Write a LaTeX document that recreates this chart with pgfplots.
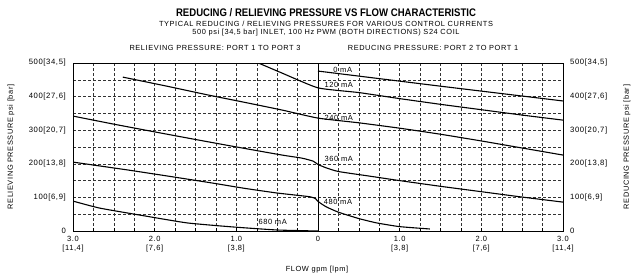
\documentclass[border=0pt]{standalone}
\usepackage{fontspec}
\setmainfont{Liberation Sans}
\newfontfamily\dfont[LetterSpace=8]{Liberation Sans}
\newfontfamily\tfont[FakeStretch=0.87]{Liberation Sans}
\usepackage{pgfplots}
\pgfplotsset{compat=1.18}
\begin{document}
\begin{tikzpicture}[x=1pt,y=1pt]
\useasboundingbox (0,0) rectangle (634,277);
\begin{axis}[
  at={(73pt,46pt)}, anchor=south west,
  width=490pt, height=168pt, scale only axis,
  xmin=-3, xmax=3, ymin=0, ymax=500,
  xtick={-3,-2,-1,0,1,2,3},
  xticklabels={{3.0\\{[11,4]}},{2.0\\{[7,6]}},{1.0\\{[3,8]}},{0},{1.0\\{[3,8]}},{2.0\\{[7,6]}},{3.0\\{[11,4]}}},
  minor x tick num=3,
  ytick={0,100,...,500},
  yticklabels={0,{100[6,9]},{200[13,8]},{300[20,7]},{400[27,6]},{500[34,5]}},
  minor y tick num=1,
  grid=both,
  grid style={black!80, line width=0.4pt, dash pattern=on 3pt off 2pt},
  tick align=inside,
  xtick pos=left, ytick pos=left,
  ytick style={draw=none},
  xtick style={black, line width=0.5pt},
  major tick length=3pt, minor tick length=3pt,
  axis line style={line width=1pt},
  xticklabel style={font=\dfont\fontsize{7.5}{9}\selectfont, align=center, inner sep=0pt, yshift=-5pt},
  yticklabel style={font=\dfont\fontsize{7.7}{9}\selectfont, inner sep=0pt, xshift=-7pt},
]
% centre line
\addplot[black, line width=1pt] coordinates {(0,0) (0,500)};
% 0 mA
\addplot[black, line width=1.1pt] coordinates {(0,476) (1.5,431) (3,387)};
% 120 mA
\addplot[black, line width=1.1pt, smooth, tension=0.3] coordinates {(-0.73,500) (-0.44,470) (0,426) (0.5,412) (1,394) (1.5,377) (2,361) (2.5,345) (3,330)};
% 240 mA
\addplot[black, line width=1.1pt, smooth, tension=0.3] coordinates {(-2.39,458) (-1.85,431) (-1.35,405) (-0.9,383) (-0.44,360) (0,336) (0.5,322) (1,306) (1.5,288) (2,268) (2.5,247) (3,226)};
% 360 mA
\addplot[black, line width=1.1pt, smooth, tension=0.3] coordinates {(-3,342) (-2.5,318) (-2,295) (-1.47,271) (-0.95,248) (-0.44,226) (-0.2,217) (-0.06,208) (0,198) (0.1,188) (0.25,177) (0.64,163) (1,150) (1.5,133) (2,117) (2.5,101) (3,86)};
% 480 mA
\addplot[black, line width=1.1pt, smooth, tension=0.3] coordinates {(-3,205) (-2.34,182) (-1.8,162) (-1.3,143) (-0.9,127) (-0.5,113) (-0.1,102) (-0.03,96) (0,88) (0.1,72) (0.25,56) (0.5,37) (0.72,24) (1.0,13) (1.37,6)};
% 680 mA
\addplot[black, line width=1.1pt, smooth, tension=0.3] coordinates {(-3,89) (-2.67,68) (-2.1,44) (-1.6,24) (-1.04,12) (-0.5,3) (0,0)};
\node[anchor=base east, font=\dfont\fontsize{7.5}{9}\selectfont, inner sep=0pt] at (axis cs:0.42,471) {0 mA};
\node[anchor=base east, font=\dfont\fontsize{7.5}{9}\selectfont, inner sep=0pt] at (axis cs:0.43,428) {120 mA};
\node[anchor=base east, font=\dfont\fontsize{7.5}{9}\selectfont, inner sep=0pt] at (axis cs:0.43,330) {240 mA};
\node[anchor=base east, font=\dfont\fontsize{7.5}{9}\selectfont, inner sep=0pt] at (axis cs:0.43,208) {360 mA};
\node[anchor=base east, font=\dfont\fontsize{7.5}{9}\selectfont, inner sep=0pt] at (axis cs:0.42,79) {480 mA};
\node[anchor=base east, font=\dfont\fontsize{7.5}{9}\selectfont, inner sep=0pt] at (axis cs:-0.38,18) {680 mA};
\end{axis}
\begin{axis}[
  at={(73pt,46pt)}, anchor=south west,
  width=490pt, height=168pt, scale only axis,
  xmin=-3, xmax=3, ymin=0, ymax=500,
  axis x line=none, axis y line*=right,
  axis line style={draw=none},
  ytick={0,100,...,500},
  yticklabels={0,{100[6,9]},{200[13,8]},{300[20,7]},{400[27,6]},{500[34,5]}},
  ytick style={draw=none},
  yticklabel style={font=\dfont\fontsize{7.7}{9}\selectfont, inner sep=0pt, xshift=7pt, anchor=west},
]
\addplot[draw=none] coordinates {(0,0)};
\end{axis}
\node[font=\tfont\bfseries\fontsize{11}{13}\selectfont] at (326,264) {REDUCING / RELIEVING PRESSURE VS FLOW CHARACTERISTIC};
\node[font=\dfont\fontsize{7.4}{8}\selectfont] at (326,253) {TYPICAL REDUCING / RELIEVING PRESSURES FOR VARIOUS CONTROL CURRENTS};
\node[font=\dfont\fontsize{7.4}{8}\selectfont] at (326,244) {500 psi [34,5 bar] INLET, 100 Hz PWM (BOTH DIRECTIONS) S24 COIL};
\node[font=\dfont\fontsize{7.4}{8}\selectfont] at (215,229) {RELIEVING PRESSURE: PORT 1 TO PORT 3};
\node[font=\dfont\fontsize{7.4}{8}\selectfont] at (433,229) {REDUCING PRESSURE: PORT 2 TO PORT 1};
\node[font=\dfont\fontsize{7.4}{8}\selectfont, rotate=90] at (11,130) {RELIEVING PRESSURE psi [bar]};
\node[font=\dfont\fontsize{7.4}{8}\selectfont, rotate=90] at (627,130) {REDUCING PRESSURE psi [bar]};
\node[font=\dfont\fontsize{7.4}{8}\selectfont] at (317,7.5) {FLOW gpm [lpm]};
\end{tikzpicture}
\end{document}
